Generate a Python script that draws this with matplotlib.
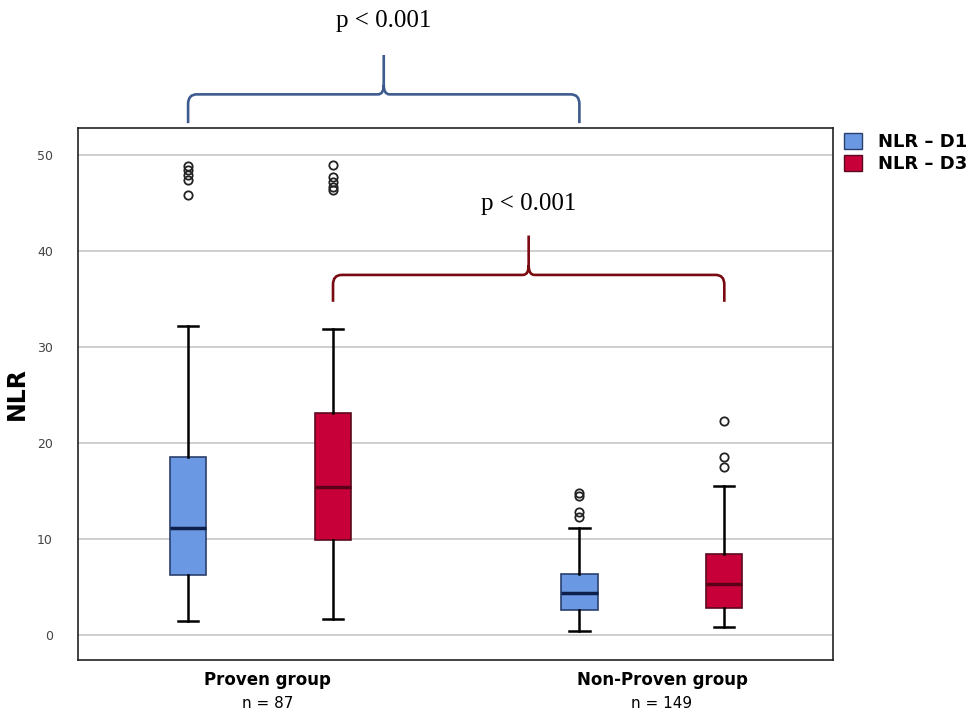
import matplotlib
matplotlib.use("Agg")
import matplotlib.pyplot as plt
from matplotlib.patches import Patch, PathPatch
from matplotlib.path import Path

# ---- data ----
series = ["NLR – D1", "NLR – D3"]
groups = ["Proven group", "Non-Proven group"]
group_n = ["n = 87", "n = 149"]
# stats per box: whislo, q1, med, q3, whishi
proven_d1 = dict(whislo=1.5, q1=6.25, med=11.1, q3=18.5, whishi=32.2)
proven_d3 = dict(whislo=1.7, q1=9.9, med=15.4, q3=23.1, whishi=31.9)
nonproven_d1 = dict(whislo=0.4, q1=2.6, med=4.4, q3=6.35, whishi=11.1)
nonproven_d3 = dict(whislo=0.8, q1=2.8, med=5.3, q3=8.4, whishi=15.5)
proven_d1_out = [45.8, 47.4, 47.9, 48.4, 48.8]
proven_d3_out = [46.3, 46.7, 47.2, 47.7, 48.9]
nonproven_d1_out = [12.3, 12.8, 14.5, 14.8]
nonproven_d3_out = [17.5, 18.5, 22.3]
p_text = "p < 0.001"

positions = [0, 1, 2.7, 3.7]
colors = ["#6a98e2", "#c8003a"]
median_colors = ["#0d1f4a", "#5a0018"]
edge_colors = ["#2b3f6e", "#5a0a1e"]

stats = []
for s, out in [(proven_d1, proven_d1_out), (proven_d3, proven_d3_out),
               (nonproven_d1, nonproven_d1_out), (nonproven_d3, nonproven_d3_out)]:
    d = dict(s)
    d["fliers"] = out
    stats.append(d)

fig = plt.figure(figsize=(9.72, 7.19), dpi=100)
ax = fig.add_axes([0.0802, 0.082, 0.857 - 0.0802, 0.822 - 0.082])

for i, (st, pos) in enumerate(zip(stats, positions)):
    k = i % 2
    ax.bxp([st], positions=[pos], widths=0.25, patch_artist=True, showfliers=True,
           boxprops=dict(facecolor=colors[k], edgecolor=edge_colors[k], linewidth=1.2),
           medianprops=dict(color=median_colors[k], linewidth=2.5),
           whiskerprops=dict(color="black", linewidth=1.8),
           capprops=dict(color="black", linewidth=1.8),
           capwidths=0.14,
           flierprops=dict(marker="o", markerfacecolor="none", markeredgecolor="#222222",
                           markersize=6, markeredgewidth=1.3),
           zorder=3)

ax.set_ylim(-2.6, 52.8)
ax.set_xlim(-0.76, 4.45)
ax.set_yticks([0, 10, 20, 30, 40, 50])
ax.yaxis.grid(True, color="#cccccc", linewidth=1.3, zorder=0)
ax.set_axisbelow(True)
ax.tick_params(axis="y", length=0, labelsize=9, labelcolor="#444444", pad=18)
ax.set_xticks([])
for sp in ax.spines.values():
    sp.set_color("#222222")
    sp.set_linewidth(1.2)
ax.set_ylabel("NLR", fontsize=17, fontweight="bold", labelpad=6)

# group labels
centers = [(positions[0] + positions[1]) / 2 + 0.05, (positions[2] + positions[3]) / 2 + 0.07]
for c, g, n in zip(centers, groups, group_n):
    ax.text(c, -4.7, g, ha="center", va="center", fontsize=12, fontweight="bold", clip_on=False)
    ax.text(c, -7.1, n, ha="center", va="center", fontsize=11, clip_on=False)

# curly brackets
def bracket(x0, x1, yline, yend, ytip, color, ytext):
    xm = (x0 + x1) / 2
    rx, ry = 0.06, 1.0
    tx, ty = 0.04, 1.0
    verts = [(x0, yend), (x0, yline - ry), (x0, yline), (x0 + rx, yline),
             (xm - tx, yline), (xm, yline), (xm, yline + ty), (xm, ytip),
             (xm, yline + ty), (xm, yline), (xm + tx, yline),
             (x1 - rx, yline), (x1, yline), (x1, yline - ry), (x1, yend)]
    codes = [Path.MOVETO, Path.LINETO, Path.CURVE3, Path.CURVE3,
             Path.LINETO, Path.CURVE3, Path.CURVE3, Path.LINETO,
             Path.MOVETO, Path.CURVE3, Path.CURVE3,
             Path.LINETO, Path.CURVE3, Path.CURVE3, Path.LINETO]
    patch = PathPatch(Path(verts, codes), facecolor="none", edgecolor=color, lw=1.9,
                      clip_on=False, capstyle="butt")
    ax.add_patch(patch)
    ax.text(xm, ytext, p_text, ha="center", va="center", fontsize=18,
            family="Liberation Serif", clip_on=False)

bracket(positions[0], positions[2], 56.3, 53.3, 60.4, "#3e5b8f", 63.9)
bracket(positions[1], positions[3], 37.5, 34.7, 41.6, "#7a0a12", 44.9)

handles = [Patch(facecolor=colors[i], edgecolor=edge_colors[i], label=series[i]) for i in range(2)]
leg = fig.legend(handles=handles, loc="upper left", bbox_to_anchor=(0.857, 0.83), frameon=False,
                 prop=dict(size=13, weight="bold"), handlelength=1.0, handleheight=1.0,
                 handletextpad=0.9, labelspacing=0.2, borderaxespad=0.2)

fig.savefig("out.png", dpi=100)
